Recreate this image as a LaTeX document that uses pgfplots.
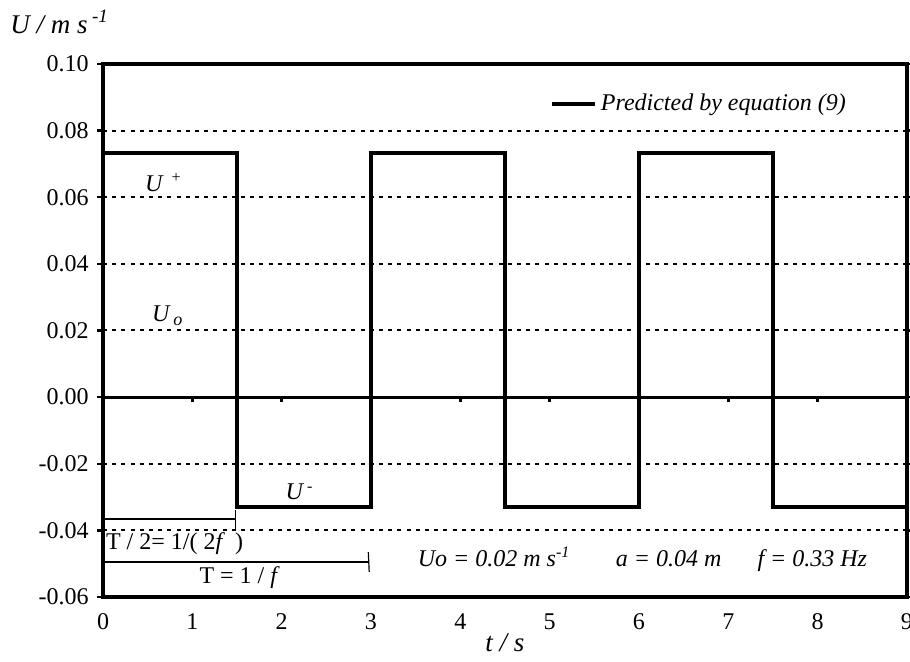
\documentclass[border=0pt]{standalone}
\usepackage{pgfplots}
\pgfplotsset{compat=1.18}
\usepackage{fontspec}
\setmainfont{Liberation Serif}
\newcommand\ff{\fontsize{12}{14}\selectfont}
\newcommand\fl{\fontsize{12}{14}\selectfont}
\newcommand\fa{\fontsize{13.5}{15}\selectfont}
\begin{document}
\ff
\begin{tikzpicture}
\useasboundingbox (-51.5pt,-32.5pt) rectangle (403.5pt,298.5pt);
\begin{axis}[
  at={(0,0)}, anchor=south west,
  scale only axis, width=402pt, height=266.5pt,
  xmin=0, xmax=9, ymin=-0.06, ymax=0.10,
  xtick={0,1,...,9}, ytick={-0.06,-0.04,...,0.1},
  xtick style={draw=none},
  ytick style={line width=1.2pt, black},
  tick align=outside, major tick length=3pt,
  yticklabel style={/pgf/number format/fixed, /pgf/number format/fixed zerofill, /pgf/number format/precision=2, font=\ff},
  xticklabel style={font=\ff, yshift=-1pt},
  /pgf/number format/assume math mode=true,
  axis line style={line width=1.9pt},
  ymajorgrids, grid style={line width=1pt, black, dash pattern=on 2pt off 2.6pt},
  clip=false,
  legend style={at={(0.937,0.925)}, anchor=east, draw=none, fill=none, font=\fl\itshape},
  legend image code/.code={\draw[#1] (0cm,0cm) -- (0.75cm,0cm);},
]
\addplot[black, line width=1.8pt] coordinates {
 (0,0.0733) (1.5,0.0733) (1.5,-0.033) (3,-0.033) (3,0.0733) (4.5,0.0733)
 (4.5,-0.033) (6,-0.033) (6,0.0733) (7.5,0.0733) (7.5,-0.033) (9,-0.033)};
\addlegendentry{Predicted by equation (9)}
\addplot[black, line width=1.6pt, forget plot] coordinates {(0,0) (9,0)};
\foreach \i in {1,...,8} {\edef\tmp{\noexpand\draw[black, line width=1.2pt] (axis cs:\i,0) -- ([yshift=-2.5pt]axis cs:\i,0);}\tmp}
% annotations
\draw[black, line width=0.6pt] (axis cs:0,-0.0366) -- (axis cs:1.485,-0.0366);
\draw[black, line width=0.6pt] (axis cs:1.485,-0.034) -- (axis cs:1.485,-0.0395);
\draw[black, line width=0.6pt] (axis cs:0,-0.0495) -- (axis cs:2.97,-0.0495);
\draw[black, line width=0.6pt] (axis cs:2.97,-0.0465) -- (axis cs:2.98,-0.0525);
\node[anchor=west, inner sep=0pt] at (axis cs:0.03,-0.0441) {T / 2= 1/( 2\textit{f}\, )};
\node[inner sep=0pt] at (axis cs:1.53,-0.0543) {T = 1 / \textit{f}};
\node[anchor=west, inner sep=0pt, font=\fl\itshape] at (axis cs:3.52,-0.0486) {Uo = 0.02 m s\textsuperscript{-1}\hspace{1.9em}a = 0.04 m\hspace{1.5em}f = 0.33 Hz};
\node[inner sep=0pt, font=\fl\itshape] at (axis cs:0.68,0.0645) {U\,\,\textsuperscript{+}};
\node[inner sep=0pt, font=\fl\itshape] at (axis cs:0.72,0.0245) {U\,\raisebox{-0.35ex}{\small o}};
\node[inner sep=0pt, font=\fl\itshape] at (axis cs:2.2,-0.0285) {U\,\textsuperscript{-}};
\end{axis}
\node[anchor=west, inner sep=0pt, font=\fa\itshape] at (-46.5pt,287.5pt) {U / m s\,\textsuperscript{-1}};
\node[inner sep=0pt, font=\fa\itshape] at (201pt,-23pt) {t / s};
\end{tikzpicture}
\end{document}
